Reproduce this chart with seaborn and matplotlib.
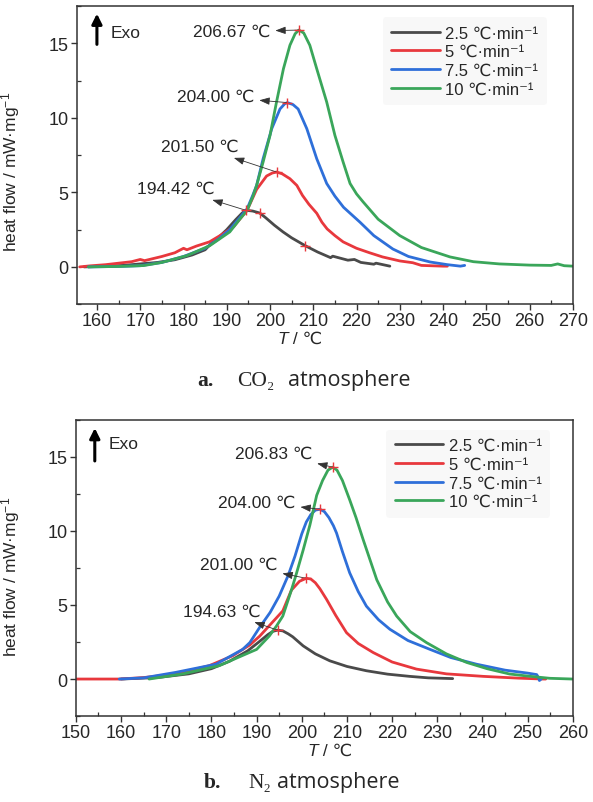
import numpy as np
import pandas as pd
import matplotlib
matplotlib.use("Agg")
import matplotlib.pyplot as plt
from matplotlib.ticker import MultipleLocator
from matplotlib.lines import Line2D
import seaborn as sns

# ---------------- data ----------------
rates = ["2.5", "5", "7.5", "10"]
colors = ["#4a4a4a", "#e8383d", "#2e6fd9", "#3aa65a"]

# CO2 atmosphere
co2_T_25 = [157, 162, 166, 170, 174, 178, 182, 185, 186.5, 188, 190, 192, 193.5, 194.42, 196, 197.6,
            199, 201, 203, 205, 208.1, 211, 214, 214.5, 218, 219.5, 221, 224, 224.5, 227.7]
co2_H_25 = [0.0, 0.04, 0.1, 0.2, 0.3, 0.48, 0.8, 1.15, 1.6, 1.95, 2.5, 3.15, 3.6, 3.8, 3.75, 3.62,
            3.3, 2.8, 2.35, 1.95, 1.43, 1.0, 0.62, 0.72, 0.45, 0.5, 0.3, 0.18, 0.25, 0.05]
co2_T_5 = [156, 158.4, 162, 165, 168, 170, 171, 175, 178, 180, 180.8, 183, 186, 189, 191.6, 194.7,
           196.9, 199.2, 200.5, 201.5, 202.8, 204.6, 206.2, 207.5, 209, 210.8, 212, 213.2, 215,
           216.9, 220, 223, 226, 230, 233, 235, 240, 241]
co2_H_5 = [0.0, 0.07, 0.15, 0.25, 0.35, 0.5, 0.42, 0.7, 0.95, 1.25, 1.15, 1.4, 1.68, 2.2, 2.7, 3.8,
           5.2, 6.1, 6.3, 6.37, 6.25, 5.92, 5.47, 4.8, 4.2, 3.6, 3.0, 2.55, 2.1,
           1.68, 1.25, 0.95, 0.67, 0.4, 0.28, 0.1, 0.05, 0.05]
co2_T_75 = [158, 165, 170, 175, 180, 185, 188, 190.7, 193, 194.7, 196, 196.9, 198.4, 200.4, 202.3,
            203.4, 204.0, 205.3, 206.5, 208.5, 210.8, 213.1, 215, 217, 220.8, 224, 228.4, 232,
            237, 241, 244, 245]
co2_H_75 = [0.0, 0.03, 0.08, 0.3, 0.7, 1.25, 1.85, 2.5, 3.3, 3.9, 4.8, 5.47, 7.26, 9.28, 10.6,
            10.95, 11.03, 10.9, 10.6, 9.28, 7.26, 5.6, 4.75, 4.0, 3.0, 2.1, 1.2, 0.7,
            0.33, 0.15, 0.05, 0.1]
co2_T_10 = [158, 165, 170.8, 175, 180.8, 186.1, 190.7, 193, 194.7, 196, 196.9, 198.4, 200, 201.5,
            203.1, 204.6, 205.8, 206.67, 207.8, 209.2, 210.8, 213.1, 215, 216.9, 218.5, 220,
            221.5, 225, 230, 235, 241.6, 247, 253, 260, 265, 266.5, 268, 270]
co2_H_10 = [0.0, 0.03, 0.09, 0.3, 0.76, 1.43, 2.35, 3.2, 3.79, 4.7, 5.47, 7.04, 8.83, 11.07,
            13.3, 14.88, 15.65, 15.9, 15.7, 14.88, 13.3, 11.07, 8.83, 7.04, 5.6, 4.9,
            4.37, 3.2, 2.1, 1.3, 0.67, 0.35, 0.2, 0.12, 0.1, 0.2, 0.08, 0.05]

# N2 atmosphere
n2_T_25 = [160, 168, 175, 180, 184, 188, 190.5, 192.5, 193.6, 194.63, 195.8, 197, 198, 200.3, 203,
           206.2, 210, 214.3, 219, 223.9, 228, 233.4]
n2_H_25 = [0.0, 0.1, 0.35, 0.7, 1.2, 1.9, 2.5, 3.0, 3.22, 3.3, 3.25, 3.05, 2.85, 2.24, 1.7,
           1.23, 0.85, 0.56, 0.33, 0.18, 0.08, 0.03]
n2_T_5 = [150, 159.6, 165, 172.1, 179.5, 184.7, 188.5, 190.7, 192.8, 195.8, 197.7, 199.5, 201.0,
          202, 203, 204, 205.5, 207.5, 209.9, 212.5, 215.8, 220, 225.4, 232, 240.2, 248, 253.4, 254]
n2_H_5 = [0.0, 0.0, 0.1, 0.34, 0.9, 1.57, 2.3, 2.9, 3.6, 4.6, 6.0, 6.6, 6.8,
          6.75, 6.5, 6.1, 5.37, 4.3, 3.13, 2.4, 1.79, 1.15, 0.67, 0.35, 0.18, 0.06, 0.0, 0.0]
n2_T_75 = [159.6, 165, 172.1, 181, 186.9, 188.5, 190.7, 193, 195, 197, 198.5, 200, 201, 202, 203,
           204.0, 205, 206, 207, 207.7, 209, 210.6, 212.5, 214.3, 217, 219.5, 223.5, 228.4, 233,
           238.7, 245, 250, 252, 252.4, 252.6, 253]
n2_H_75 = [0.0, 0.08, 0.45, 1.0, 2.0, 2.46, 3.5, 4.5, 5.6, 7.0, 8.3, 9.8, 10.6, 11.1, 11.4,
           11.46, 11.3, 10.9, 10.35, 9.85, 8.6, 7.17, 5.9, 4.92, 4.0, 3.36, 2.6, 2.0, 1.45,
           1.0, 0.6, 0.4, 0.3, 0.1, -0.1, 0.0]
n2_T_10 = [166.2, 173.6, 181.7, 188.4, 190, 192.8, 194.4, 195.8, 197.7, 198.7, 200.3, 201.8,
           203.3, 204.6, 205.8, 206.83, 207.8, 209, 210.6, 212, 213.6, 216.6, 219, 221, 224,
           227.6, 232, 236.5, 241, 246, 250, 254.9, 260]
n2_H_10 = [0.0, 0.34, 0.9, 1.79, 2.0, 2.9, 3.58, 4.25, 6.0, 7.0, 8.7, 10.4,
           12.4, 13.4, 14.1, 14.3, 14.1, 13.4, 12.1, 10.9, 9.4, 6.7, 5.2, 4.25, 3.2,
           2.46, 1.7, 1.12, 0.7, 0.34, 0.2, 0.05, 0.0]

# peak temperatures and heights (labelled)
co2_peak_T = [194.42, 201.50, 204.00, 206.67]
co2_peak_H = [3.8, 6.37, 11.03, 15.9]
n2_peak_T = [194.63, 201.00, 204.00, 206.83]
n2_peak_H = [3.3, 6.8, 11.46, 14.3]
# additional marks on the slow-rate CO2 curve
co2_extra_T = [197.6, 208.1]
co2_extra_H = [3.62, 1.43]

# ---------------- style ----------------
sns.set_style("ticks")
plt.rcParams["font.family"] = ["Liberation Sans", "DejaVu Sans"]
plt.rcParams["mathtext.fontset"] = "custom"
plt.rcParams["mathtext.rm"] = "Liberation Sans"
plt.rcParams["mathtext.it"] = "Liberation Sans:italic"
plt.rcParams["axes.edgecolor"] = "#333333"
plt.rcParams["axes.linewidth"] = 1.1

FS = 12.5


def long_frame(Ts, Hs):
    parts = []
    for r, t, h in zip(rates, Ts, Hs):
        parts.append(pd.DataFrame({"T": t, "H": h, "rate": r}))
    return pd.concat(parts, ignore_index=True)


def draw_panel(ax, df, peak_T, peak_H, ann_pos, xlim, xlabel_x, legend_anchor, exo):
    sns.lineplot(data=df, x="T", y="H", hue="rate", hue_order=rates, palette=colors,
                 estimator=None, sort=False, lw=2.0, ax=ax, legend=False)
    ax.plot(peak_T, peak_H, ls="none", marker="+", ms=7, mew=1.0, color="#e8383d", zorder=5)
    for T, H, (tx, ty) in zip(peak_T, peak_H, ann_pos):
        ax.annotate(f"{T:.2f} ℃", xy=(T, H), xytext=(tx, ty), ha="center", va="center",
                    fontsize=FS,
                    arrowprops=dict(arrowstyle="<|-,head_length=0.5,head_width=0.18",
                                    color="#333333", lw=0.6, shrinkA=1, shrinkB=0))
    ax.set_xlim(*xlim)
    ax.set_ylim(-2.5, 17.5)
    ax.xaxis.set_major_locator(MultipleLocator(10))
    ax.xaxis.set_minor_locator(MultipleLocator(5))
    ax.yaxis.set_major_locator(MultipleLocator(5))
    ax.yaxis.set_minor_locator(MultipleLocator(2.5))
    ax.tick_params(which="major", direction="out", length=4, width=1.0, labelsize=13, pad=2,
                   color="#333333")
    ax.tick_params(which="minor", direction="in", length=3, width=0.9, color="#333333")
    for s in ax.spines.values():
        s.set_visible(True)
    # axis title: italic T followed by the unit
    ax.set_xlabel("")
    ax.text(xlabel_x, -0.115, "T", style="italic", fontsize=FS, transform=ax.transAxes,
            ha="right", va="center")
    ax.text(xlabel_x, -0.115, " / ℃", fontsize=FS, transform=ax.transAxes,
            ha="left", va="center")
    ax.set_ylabel("heat flow / mW·mg$^{-1}$", fontsize=FS)
    handles = [Line2D([], [], color=c, lw=2.0) for c in colors]
    labels = [f"{r} ℃·min⁻¹" for r in rates]
    leg = ax.legend(handles, labels, loc="upper left", bbox_to_anchor=legend_anchor,
                    fontsize=FS - 0.5, handlelength=2.9, handletextpad=0.35, labelspacing=0.22,
                    frameon=True, borderaxespad=0, borderpad=0.5)
    leg.get_frame().set_facecolor("#f7f7f7")
    leg.get_frame().set_edgecolor("none")
    # exothermic direction marker
    ax.annotate("", xy=(exo[0], exo[2]), xytext=(exo[0], exo[1]), xycoords="axes fraction",
                arrowprops=dict(arrowstyle="-|>,head_length=0.6,head_width=0.3", color="black",
                                lw=2.2, shrinkA=0, shrinkB=0))
    ax.text(exo[0] + 0.027, exo[3], "Exo", transform=ax.transAxes, fontsize=FS,
            ha="left", va="center")


fig = plt.figure(figsize=(5.93, 8.03), dpi=100)
ax1 = fig.add_axes([0.130, 0.620, 0.836, 0.371])
ax2 = fig.add_axes([0.128, 0.107, 0.838, 0.369])

df_co2 = long_frame([co2_T_25, co2_T_5, co2_T_75, co2_T_10], [co2_H_25, co2_H_5, co2_H_75, co2_H_10])
df_n2 = long_frame([n2_T_25, n2_T_5, n2_T_75, n2_T_10], [n2_H_25, n2_H_5, n2_H_75, n2_H_10])

co2_ann = [(178.3, 5.25), (183.8, 8.07), (187.5, 11.43), (191.2, 15.8)]
n2_ann = [(182.3, 4.6), (186.1, 7.72), (190.1, 11.95), (193.8, 15.25)]

draw_panel(ax1, df_co2, co2_peak_T, co2_peak_H, co2_ann, (155.4, 270), 0.425,
           (0.617, 0.963), (0.040, 0.872, 0.975, 0.913))
ax1.plot(co2_extra_T, co2_extra_H, ls="none", marker="+", ms=7, mew=1.0, color="#e8383d", zorder=5)
ax1.yaxis.set_label_coords(-0.111, 0.446)

draw_panel(ax2, df_n2, n2_peak_T, n2_peak_H, n2_ann, (150, 260), 0.487,
           (0.625, 0.966), (0.038, 0.861, 0.972, 0.919))
ax2.yaxis.set_label_coords(-0.109, 0.473)

serif = ["Liberation Serif", "DejaVu Serif"]
cap = 15.5
fig.text(197 / 593, 1 - 386 / 803, "a.", fontsize=cap, weight="bold", family=serif, va="baseline")
fig.text(237 / 593, 1 - 386 / 803, "CO₂", fontsize=cap, family=serif, va="baseline")
fig.text(288 / 593, 1 - 386 / 803, "atmosphere", fontsize=cap, family="Open Sans", va="baseline")
fig.text(204 / 593, 1 - 788 / 803, "b.", fontsize=cap, weight="bold", family=serif, va="baseline")
fig.text(248 / 593, 1 - 788 / 803, "N₂", fontsize=cap, family=serif, va="baseline")
fig.text(277 / 593, 1 - 788 / 803, "atmosphere", fontsize=cap, family="Open Sans", va="baseline")

fig.savefig("out.png", dpi=100)
